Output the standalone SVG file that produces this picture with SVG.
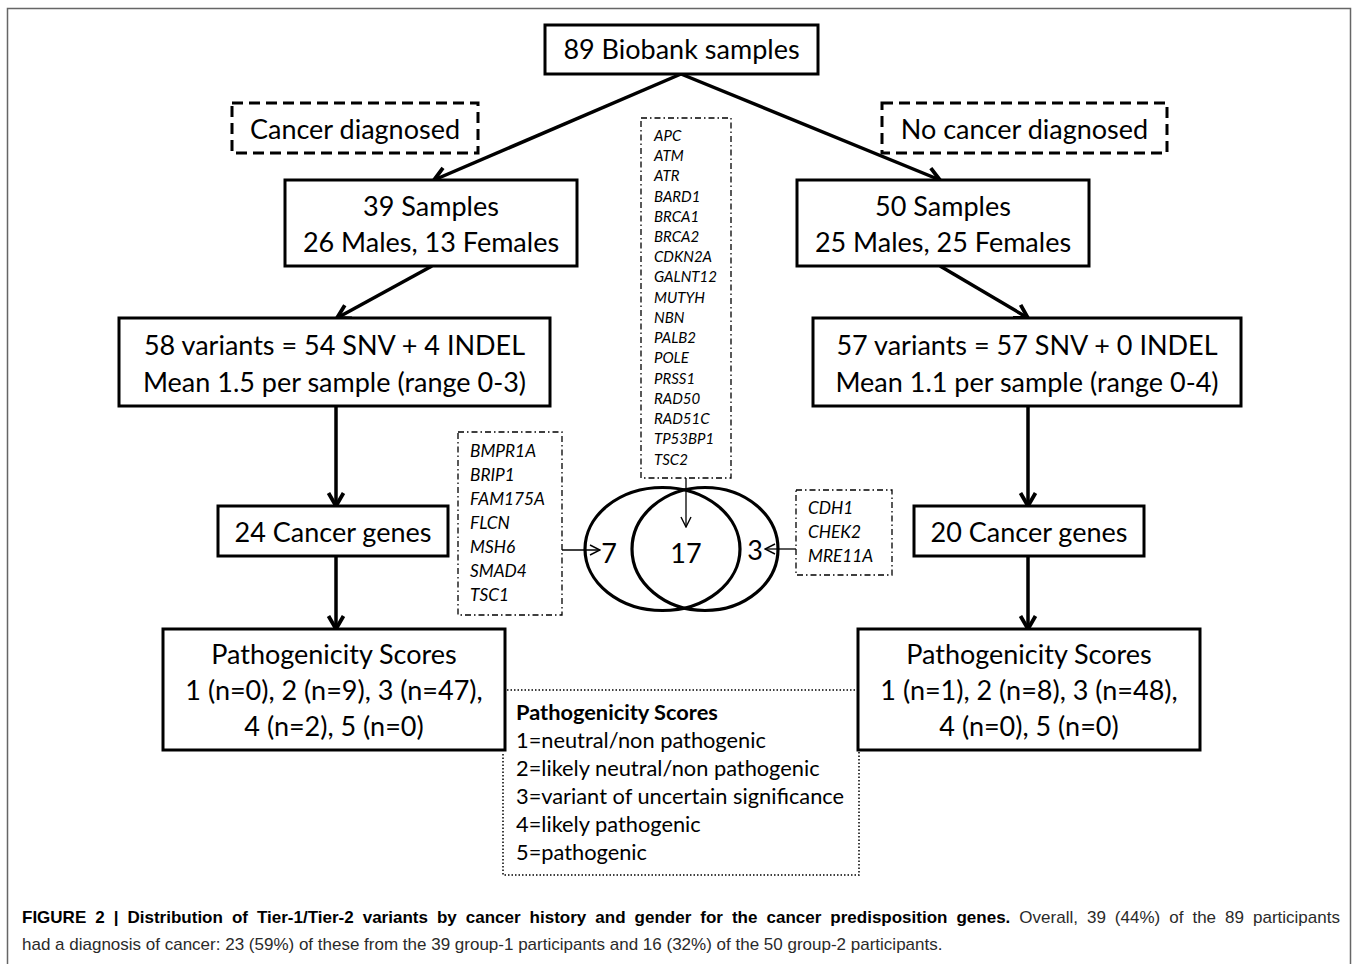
<svg xmlns="http://www.w3.org/2000/svg" width="1358" height="964" viewBox="0 0 1358 964">
<style>
.box{fill:#fff;stroke:#000;stroke-width:3}
.dash{fill:#fff;stroke:#000;stroke-width:3;stroke-dasharray:11 6}
.dd{fill:#fff;stroke:#000;stroke-width:1.3;stroke-dasharray:6 3 1.5 3}
.dot{fill:none;stroke:#000;stroke-width:1.5;stroke-dasharray:1.5 2}
.t{font-family:Lato,"Liberation Sans",sans-serif;font-size:27px;fill:#000;text-anchor:middle}
.g{font-family:Lato,"Liberation Sans",sans-serif;font-style:italic;fill:#000}
.lg{font-family:Lato,"Liberation Sans",sans-serif;font-size:21.8px;fill:#000}
.conn{stroke:#000;stroke-width:3.5;fill:none;marker-end:url(#ah)}
.thin{stroke:#000;stroke-width:1.3;fill:none;marker-end:url(#th)}
.cap{font-family:"Liberation Sans",Arial,sans-serif;font-size:17px;fill:#2a2a2a}
</style>
<defs>
<marker id="ah" markerUnits="userSpaceOnUse" viewBox="0 0 20 20" refX="18" refY="10" markerWidth="20" markerHeight="20" orient="auto">
<path d="M5,2.5 L18,10 L5,17.5" fill="none" stroke="#000" stroke-width="3.8"/>
</marker>
<marker id="th" markerUnits="userSpaceOnUse" viewBox="0 0 14 14" refX="13" refY="7" markerWidth="14" markerHeight="14" orient="auto">
<path d="M3,2 L13,7 L3,12" fill="none" stroke="#000" stroke-width="1.4"/>
</marker>
</defs>
<rect x="7.5" y="8.5" width="1343" height="980" fill="#fff" stroke="#666" stroke-width="1.5"/>

<g id="connectors">
<line class="conn" x1="681" y1="74" x2="434" y2="180"/>
<line class="conn" x1="681" y1="74" x2="940" y2="180"/>
<line class="conn" x1="432" y1="266" x2="337" y2="318"/>
<line class="conn" x1="940" y1="266" x2="1028" y2="318"/>
<line class="conn" x1="336" y1="406" x2="336" y2="506"/>
<line class="conn" x1="1028" y1="406" x2="1028" y2="506"/>
<line class="conn" x1="336" y1="556" x2="336" y2="629"/>
<line class="conn" x1="1028" y1="556" x2="1028" y2="629"/>
<line class="thin" x1="686" y1="478" x2="686" y2="527"/>
<line class="thin" x1="562" y1="550" x2="600" y2="550"/>
<line class="thin" x1="796" y1="549" x2="765" y2="549"/>
</g>

<g id="n-biobank">
<rect class="box" x="545" y="25" width="273" height="49"/>
<text class="t" x="681.5" y="59">89 Biobank samples</text>
</g>
<g id="n-cancer-diag">
<rect class="dash" x="232" y="103" width="246" height="50"/>
<text class="t" x="355" y="139">Cancer diagnosed</text>
</g>
<g id="n-nocancer-diag">
<rect class="dash" x="882" y="103" width="285" height="50"/>
<text class="t" x="1024.5" y="139">No cancer diagnosed</text>
</g>
<g id="n-39">
<rect class="box" x="285" y="180" width="292" height="86"/>
<text class="t" x="431" y="216">39 Samples</text>
<text class="t" x="431" y="252">26 Males, 13 Females</text>
</g>
<g id="n-50">
<rect class="box" x="797" y="180" width="292" height="86"/>
<text class="t" x="943" y="216">50 Samples</text>
<text class="t" x="943" y="252">25 Males, 25 Females</text>
</g>
<g id="n-58">
<rect class="box" x="119" y="318" width="431" height="88"/>
<text class="t" x="334.5" y="355">58 variants = 54 SNV + 4 INDEL</text>
<text class="t" x="334.5" y="392">Mean 1.5 per sample (range 0-3)</text>
</g>
<g id="n-57">
<rect class="box" x="813" y="318" width="428" height="88"/>
<text class="t" x="1027" y="355">57 variants = 57 SNV + 0 INDEL</text>
<text class="t" x="1027" y="392">Mean 1.1 per sample (range 0-4)</text>
</g>
<g id="n-24">
<rect class="box" x="218" y="506" width="230" height="50"/>
<text class="t" x="333" y="542">24 Cancer genes</text>
</g>
<g id="n-20">
<rect class="box" x="914" y="506" width="230" height="50"/>
<text class="t" x="1029" y="542">20 Cancer genes</text>
</g>
<g id="n-path-left">
<rect class="box" x="163" y="629" width="342" height="121"/>
<text class="t" x="334" y="664">Pathogenicity Scores</text>
<text class="t" x="334" y="700">1 (n=0), 2 (n=9), 3 (n=47),</text>
<text class="t" x="334" y="736">4 (n=2), 5 (n=0)</text>
</g>
<g id="n-path-right">
<rect class="box" x="858" y="629" width="342" height="121"/>
<text class="t" x="1029" y="664">Pathogenicity Scores</text>
<text class="t" x="1029" y="700">1 (n=1), 2 (n=8), 3 (n=48),</text>
<text class="t" x="1029" y="736">4 (n=0), 5 (n=0)</text>
</g>
<g id="n-legend">
<path class="dot" d="M507,690 H857 M859,752 V875 H503 V752"/>
<text class="lg" x="516" y="720" font-weight="bold">Pathogenicity Scores</text>
<text class="lg" x="516" y="748">1=neutral/non pathogenic</text>
<text class="lg" x="516" y="776">2=likely neutral/non pathogenic</text>
<text class="lg" x="516" y="804">3=variant of uncertain significance</text>
<text class="lg" x="516" y="832">4=likely pathogenic</text>
<text class="lg" x="516" y="860">5=pathogenic</text>
</g>
<g id="n-shared-genes">
<rect class="dd" x="641" y="118" width="90" height="360"/>
<g class="g" font-size="15">
<text x="654" y="141">APC</text>
<text x="654" y="161">ATM</text>
<text x="654" y="181">ATR</text>
<text x="654" y="202">BARD1</text>
<text x="654" y="222">BRCA1</text>
<text x="654" y="242">BRCA2</text>
<text x="654" y="262">CDKN2A</text>
<text x="654" y="282">GALNT12</text>
<text x="654" y="303">MUTYH</text>
<text x="654" y="323">NBN</text>
<text x="654" y="343">PALB2</text>
<text x="654" y="363">POLE</text>
<text x="654" y="384">PRSS1</text>
<text x="654" y="404">RAD50</text>
<text x="654" y="424">RAD51C</text>
<text x="654" y="444">TP53BP1</text>
<text x="654" y="465">TSC2</text>
</g>
</g>
<g id="n-left-genes">
<rect class="dd" x="458" y="432" width="104" height="183"/>
<g class="g" font-size="17.3">
<text x="470" y="457">BMPR1A</text>
<text x="470" y="481">BRIP1</text>
<text x="470" y="505">FAM175A</text>
<text x="470" y="529">FLCN</text>
<text x="470" y="553">MSH6</text>
<text x="470" y="577">SMAD4</text>
<text x="470" y="601">TSC1</text>
</g>
</g>
<g id="n-right-genes">
<rect class="dd" x="796" y="490" width="96" height="85"/>
<g class="g" font-size="17.3">
<text x="808" y="514">CDH1</text>
<text x="808" y="538">CHEK2</text>
<text x="808" y="562">MRE11A</text>
</g>
</g>
<g id="n-venn">
<ellipse cx="662.5" cy="549" rx="77.5" ry="61.5" fill="none" stroke="#000" stroke-width="3.2"/>
<ellipse cx="705" cy="549" rx="73" ry="61.5" fill="none" stroke="#000" stroke-width="3.2"/>
<text class="t" x="609" y="563">7</text>
<text class="t" x="686" y="563">17</text>
<text class="t" x="755" y="560">3</text>
</g>
<g id="caption">
<text class="cap" x="22" y="923" word-spacing="4.3"><tspan font-weight="bold" fill="#000">FIGURE 2 | Distribution of Tier-1/Tier-2 variants by cancer history and gender for the cancer predisposition genes.</tspan> Overall, 39 (44%) of the 89 participants</text>
<text class="cap" x="22" y="950">had a diagnosis of cancer: 23 (59%) of these from the 39 group-1 participants and 16 (32%) of the 50 group-2 participants.</text>
</g>
</svg>
